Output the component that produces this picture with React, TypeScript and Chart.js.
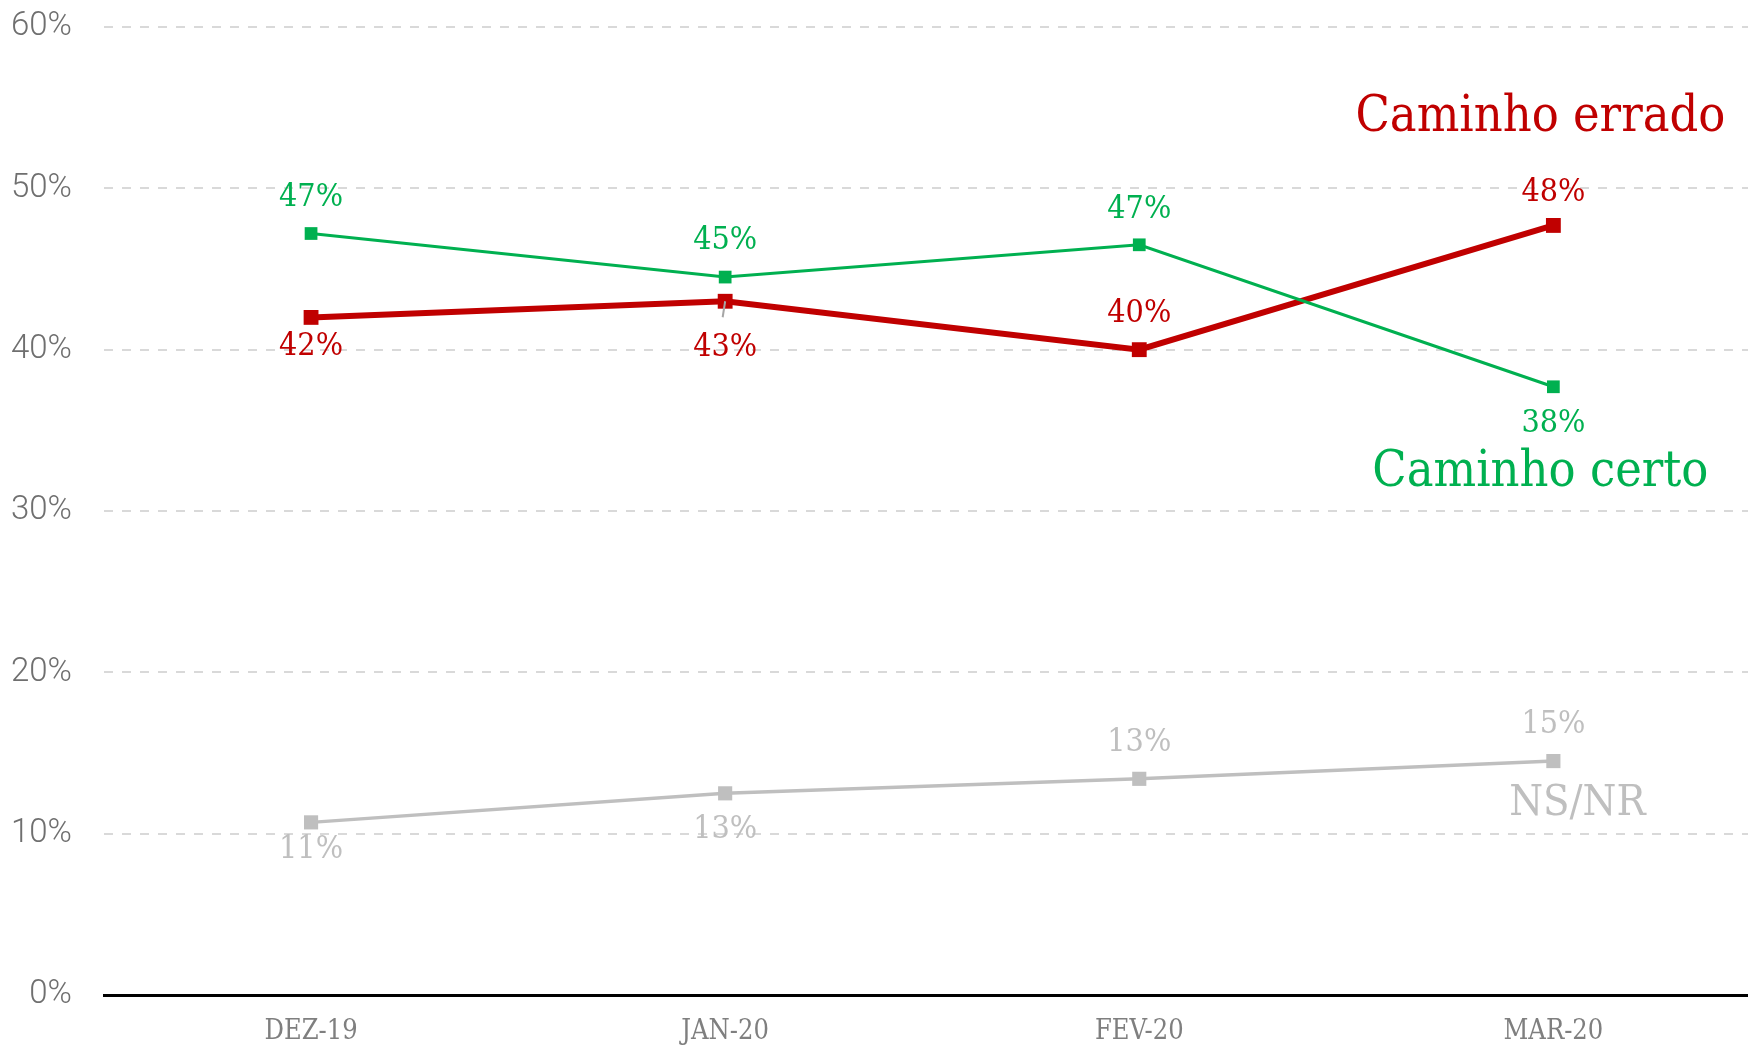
import React, { useEffect, useRef } from "react";
import { Chart, registerables } from "chart.js";

Chart.register(...registerables);

const categories = ["DEZ-19", "JAN-20", "FEV-20", "MAR-20"];
const caminhoCerto = [47.2, 44.5, 46.5, 37.7];
const caminhoErrado = [42.0, 43.0, 40.0, 47.7];
const nsnr = [10.7, 12.5, 13.4, 14.5];
const yTicks = [0, 10, 20, 30, 40, 50, 60];
const seriesNames = ["Caminho certo", "Caminho errado", "NS/NR"];

const GREEN = "#00b050";
const RED = "#c00000";
const GREY = "#bfbfbf";
const SERIF = "'DejaVu Serif Condensed', 'DejaVu Serif', serif";
const TEXT_SHIFT = 3;

// label placement (px relative to point; negative = above)
const greenLabelOffsets = [-39, -39, -38, 34];
const redLabelOffsets = [26, 43, -39, -36];
const greyLabelOffsets = [24, 33, -39, -39];

const labelsPlugin = {
  id: "valueLabels",
  afterDatasetsDraw(chart: any) {
    const ctx = chart.ctx as CanvasRenderingContext2D;
    ctx.save();
    chart.data.datasets.forEach((ds: any, i: number) => {
      const meta = chart.getDatasetMeta(i);
      if (ds.leaderIndex !== undefined) {
        const p = meta.data[ds.leaderIndex];
        ctx.strokeStyle = "#a6a6a6";
        ctx.lineWidth = 2;
        ctx.beginPath();
        ctx.moveTo(p.x, p.y);
        ctx.lineTo(p.x - 2.5, p.y + 16);
        ctx.stroke();
      }
      ctx.fillStyle = ds.labelColor;
      ctx.font = `32px ${SERIF}`;
      ctx.textAlign = "center";
      ctx.textBaseline = "middle";
      meta.data.forEach((pt: any, j: number) => {
        const v = ds.data[j].y;
        ctx.fillText(Math.round(v) + "%", pt.x, pt.y + ds.labelOffsets[j] + TEXT_SHIFT);
      });
      const last = meta.data[meta.data.length - 1];
      ctx.font = `${ds.nameSize}px ${SERIF}`;
      ctx.fillText(ds.label, last.x + ds.nameOffset[0], last.y + ds.nameOffset[1] + TEXT_SHIFT);
    });
    ctx.restore();
  },
};

export default function App() {
  const ref = useRef<HTMLCanvasElement>(null);
  useEffect(() => {
    document.body.style.margin = "0";
    document.body.style.overflow = "hidden";
    document.documentElement.style.overflow = "hidden";
    const toXY = (arr: number[]) => arr.map((y, i) => ({ x: i, y }));
    const chart = new Chart(ref.current!, {
      type: "line",
      data: {
        datasets: [
          {
            label: seriesNames[0],
            data: toXY(caminhoCerto),
            borderColor: GREEN,
            backgroundColor: GREEN,
            borderWidth: 3,
            pointStyle: "rect",
            pointRadius: 9,
            pointBorderWidth: 0,
            labelColor: GREEN,
            labelOffsets: greenLabelOffsets,
            nameSize: 50,
            nameOffset: [-13, 83],
          } as any,
          {
            label: seriesNames[1],
            data: toXY(caminhoErrado),
            borderColor: RED,
            backgroundColor: RED,
            borderWidth: 6,
            pointStyle: "rect",
            pointRadius: 10.5,
            pointBorderWidth: 0,
            labelColor: RED,
            labelOffsets: redLabelOffsets,
            leaderIndex: 1,
            nameSize: 50,
            nameOffset: [-13, -110],
          } as any,
          {
            label: seriesNames[2],
            data: toXY(nsnr),
            borderColor: GREY,
            backgroundColor: GREY,
            borderWidth: 3.5,
            pointStyle: "rect",
            pointRadius: 10,
            pointBorderWidth: 0,
            labelColor: GREY,
            labelOffsets: greyLabelOffsets,
            nameSize: 43,
            nameOffset: [24, 40],
          } as any,
        ],
      },
      options: {
        animation: false,
        responsive: false,
        devicePixelRatio: 1,
        layout: { autoPadding: false, padding: { top: 27, left: 0, right: 0, bottom: 0 } },
        plugins: { legend: { display: false }, tooltip: { enabled: false } },
        scales: {
          x: {
            type: "linear",
            min: -0.5,
            max: 3.47,
            afterBuildTicks: (scale: any) => {
              scale.ticks = categories.map((_, i) => ({ value: i }));
            },
            afterFit: (scale: any) => {
              scale.height = 51;
              scale.paddingLeft = 0;
              scale.paddingRight = 0;
            },
            grid: { display: false, drawTicks: false },
            border: { display: true, color: "#000000", width: 3 },
            ticks: {
              padding: 21,
              color: "#7f7f7f",
              font: { family: SERIF, size: 27 },
              callback: (v: any) => categories[v] ?? "",
              maxRotation: 0,
            },
          },
          y: {
            min: 0,
            max: 60,
            afterBuildTicks: (scale: any) => {
              scale.ticks = yTicks.map((v) => ({ value: v }));
            },
            afterFit: (scale: any) => {
              scale.width = 104;
              scale.paddingTop = 0;
              scale.paddingBottom = 0;
            },
            grid: {
              drawTicks: false,
              lineWidth: 2,
              color: (c: any) => (c.tick && c.tick.value === 0 ? "rgba(0,0,0,0)" : "#d9d9d9"),
            },
            border: { display: false, dash: [9, 9] },
            ticks: {
              padding: 32,
              color: "#6f6f6f",
              font: { family: "Roboto", size: 33, weight: "300" as any },
              callback: (v: any) => v + "%",
            },
          },
        },
      },
      plugins: [labelsPlugin],
    });
    return () => chart.destroy();
  }, []);
  return (
    <div style={{ position: "absolute", left: 0, top: 0, width: 1748, height: 1046, overflow: "hidden", background: "#fff" }}>
      <canvas ref={ref} width={1748} height={1046} style={{ display: "block", width: 1748, height: 1046 }} />
    </div>
  );
}
